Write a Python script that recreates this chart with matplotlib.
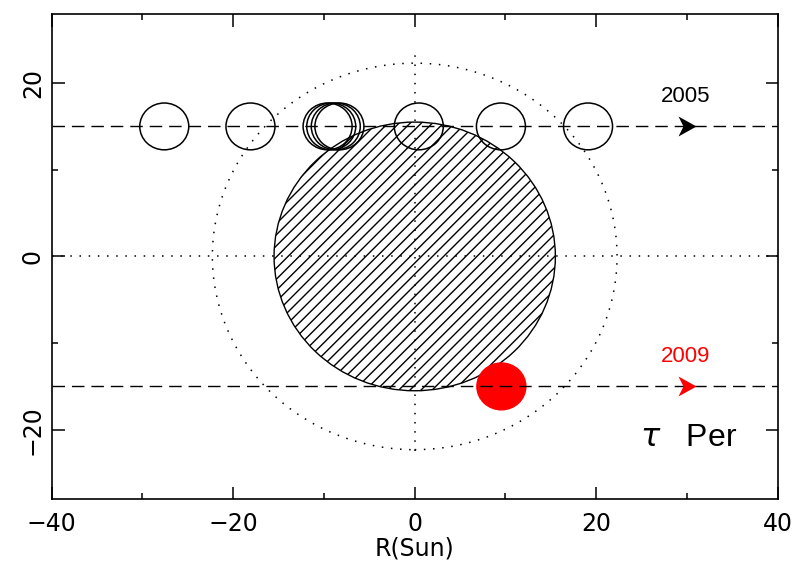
import matplotlib
matplotlib.use("Agg")
import matplotlib.pyplot as plt
from matplotlib.patches import Circle
from matplotlib.path import Path
from matplotlib.ticker import MultipleLocator

# geometry of the system, in solar radii
star_radius = 15.5
orbit_radius = 22.3
planet_radius = 2.7

# planet positions along the two chords
track_2005_y = 15
track_2005_x = [-27.6, -18.1, -9.6, -9.2, -8.7, -8.3, 0.45, 9.5, 19.1]
track_2009_y = -15
track_2009_x = [9.55]

arrow_x = 30
year_labels = ["2005", "2009"]
year_colors = ["black", "red"]

# notched arrow head used as a marker
arrow_head = Path([(9, 0), (-9, 10), (-4, 0), (-9, -10), (9, 0)],
                  [Path.MOVETO, Path.LINETO, Path.LINETO, Path.LINETO, Path.CLOSEPOLY])

fig = plt.figure(figsize=(7.96, 5.73), dpi=100)
ax = fig.add_axes([0.065, 0.129, 0.912, 0.847])

# orbit and stellar disk
ax.add_patch(Circle((0, 0), orbit_radius, fill=False, ec="black", lw=1.1,
                    ls=(0, (1, 5))))
ax.add_patch(Circle((0, 0), star_radius, fc="white", ec="black", lw=1.0,
                    hatch="///"))

# reference lines
ax.axhline(0, color="black", lw=1.1, ls=(0, (1, 5)))
ax.plot([0, 0], [-22.5, 23.2], color="black", lw=1.1, ls=(0, (1, 5)))
for y in (track_2005_y, track_2009_y):
    ax.axhline(y, color="black", lw=1.0, ls=(0, (9, 5)))

# planet positions
for x in track_2005_x:
    ax.add_patch(Circle((x, track_2005_y), planet_radius, fill=False,
                        ec="black", lw=1.1))
for x in track_2009_x:
    ax.add_patch(Circle((x, track_2009_y), planet_radius, fc="red",
                        ec="red", lw=1.0))

# direction arrows with year labels
for y, label, c in zip([track_2005_y, track_2009_y], year_labels, year_colors):
    ax.plot(arrow_x, y, marker=arrow_head, markersize=14.4, color=c,
            markeredgewidth=0)
    ax.text(arrow_x - 0.2, y + 3.4, label, color=c, fontsize=16,
            family="Liberation Sans", ha="center", va="center")

ax.text(30.2, -20.9, r"$\tau$   Per", fontsize=23, family="Liberation Sans",
        ha="center", va="center")

ax.set_xlim(-40, 40)
ax.set_ylim(-28, 28)
ax.xaxis.set_major_locator(MultipleLocator(20))
ax.xaxis.set_minor_locator(MultipleLocator(10))
ax.yaxis.set_major_locator(MultipleLocator(20))
ax.yaxis.set_minor_locator(MultipleLocator(10))
ax.tick_params(which="both", direction="in", top=True, right=True,
               labelsize=17, width=1.1)
ax.tick_params(which="major", length=9)
ax.tick_params(axis="x", which="major", pad=9)
ax.tick_params(axis="y", which="major", pad=5)
ax.tick_params(which="minor", length=4.5)
for lbl in ax.get_yticklabels():
    lbl.set_rotation(90)
    lbl.set_va("center")
for s in ax.spines.values():
    s.set_linewidth(1.2)
ax.set_xlabel("R(Sun)", fontsize=17, labelpad=1)

plt.savefig("out.png", dpi=100)
plt.close()
